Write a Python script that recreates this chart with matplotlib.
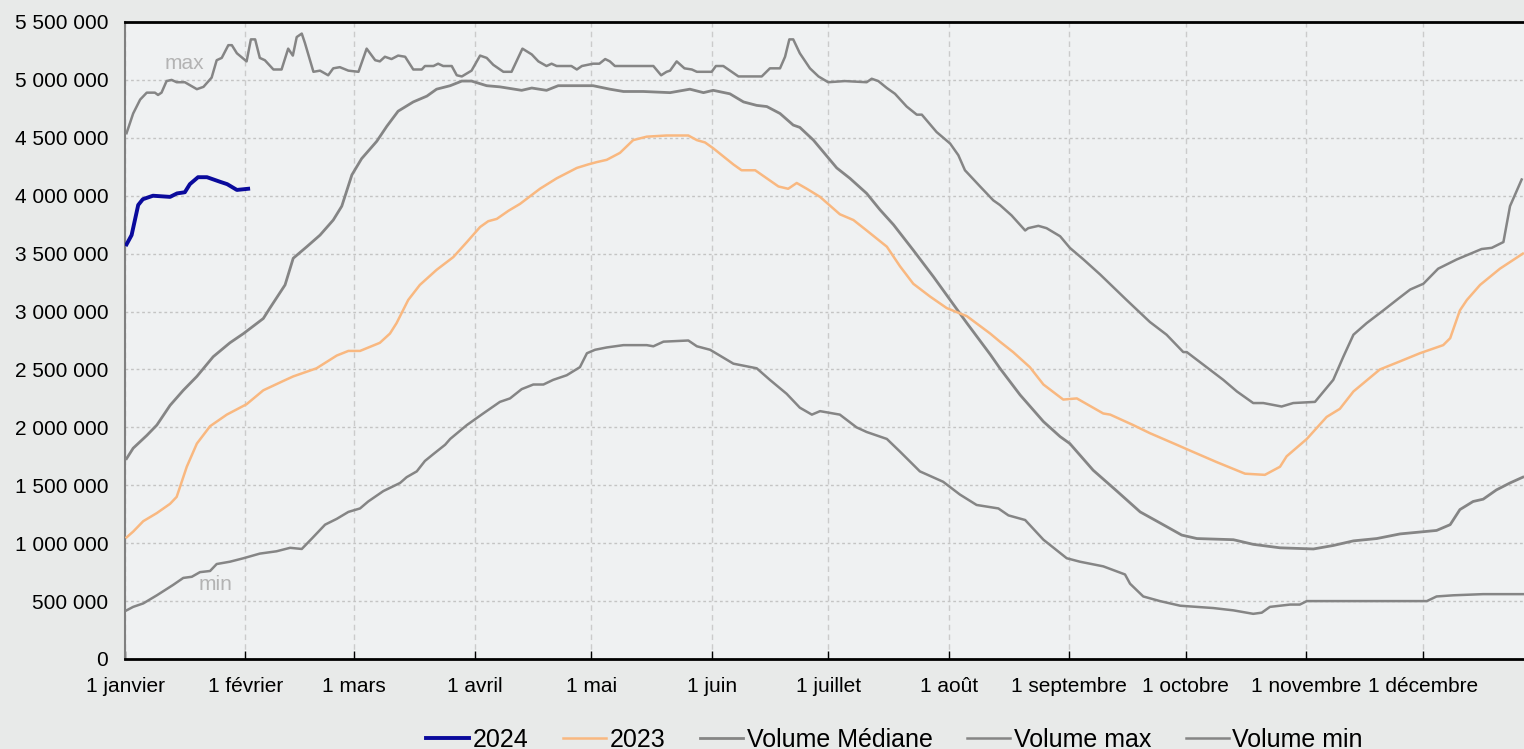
import matplotlib
matplotlib.use("Agg")
import matplotlib.pyplot as plt
from matplotlib.ticker import FuncFormatter

plt.rcParams['font.family'] = ['Liberation Sans', 'DejaVu Sans']

# day of year (0 = 1 janvier) and volume in millions
d2024 = [0.4, 1.7, 3.4, 4.6, 7.2, 11.6, 13.4, 15.4, 16.7, 18.8, 21.1, 24.5, 26.3, 28.8, 31.7]
v2024 = [3.58, 3.66, 3.92, 3.97, 4.00, 3.99, 4.02, 4.03, 4.10, 4.16, 4.16, 4.12, 4.10, 4.05, 4.06]

d2023 = [0.4, 2.1, 4.7, 8.2, 11.6, 13.3, 15.9, 18.5, 21.9, 26.2, 31.3, 35.6, 40.7, 43.3, 49.3,
         54.5, 57.5, 60.5, 65.6, 68.2, 69.9, 72.9, 75.9, 80.2, 84.5, 88.0, 91.4, 93.5, 95.7,
         98.7, 101.7, 106.8, 111.1, 116.3, 119.2, 121.4, 124.0, 127.4, 130.8, 134.3, 139.4,
         145.0, 147.2, 149.3, 151.4, 154.0, 156.6, 158.7, 162.2, 165.2, 168.2, 170.7, 172.9,
         175.5, 178.9, 182.3, 184.0, 187.5, 190.9, 196.1, 199.5, 202.9, 207.2, 211.5, 216.7,
         222.7, 225.2, 228.6, 232.9, 236.4, 241.5, 245.0, 251.8, 253.6, 259.5, 263.8, 270.7,
         274.1, 281.0, 288.3, 293.4, 297.3, 299.0, 304.2, 309.3, 312.7, 316.2, 323.0, 328.2,
         333.3, 339.3, 341.1, 343.6, 345.4, 348.8, 353.9, 359.8]
v2023 = [1.05, 1.10, 1.19, 1.26, 1.34, 1.40, 1.66, 1.86, 2.01, 2.11, 2.20, 2.32, 2.40, 2.44, 2.51,
         2.62, 2.66, 2.66, 2.73, 2.81, 2.90, 3.10, 3.23, 3.36, 3.47, 3.60, 3.73, 3.78, 3.80,
         3.87, 3.93, 4.06, 4.15, 4.24, 4.27, 4.29, 4.31, 4.37, 4.48, 4.51, 4.52,
         4.52, 4.48, 4.46, 4.41, 4.34, 4.27, 4.22, 4.22, 4.15, 4.08, 4.06, 4.11,
         4.06, 3.99, 3.89, 3.84, 3.79, 3.70, 3.56, 3.39, 3.24, 3.13, 3.03, 2.96,
         2.81, 2.74, 2.65, 2.52, 2.37, 2.24, 2.25, 2.12, 2.11, 2.02, 1.95, 1.85,
         1.80, 1.70, 1.60, 1.59, 1.66, 1.75, 1.90, 2.09, 2.16, 2.31, 2.50, 2.57,
         2.64, 2.71, 2.77, 3.01, 3.10, 3.23, 3.37, 3.50]

d_med = [0.4, 2.1, 5.6, 8.2, 11.6, 15.0, 18.5, 22.7, 27.0, 30.5, 35.6, 37.3, 41.2, 43.3, 46.8,
         50.2, 53.6, 55.8, 58.4, 60.9, 64.8, 67.4, 70.3, 74.2, 77.7, 80.2, 83.7, 86.7, 89.2,
         93.1, 96.5, 102.1, 104.7, 108.5, 111.5, 120.5, 124.8, 128.3, 133.4, 140.3, 145.4,
         148.9, 151.4, 155.7, 159.2, 162.6, 165.2, 168.6, 172.0, 173.7, 177.2, 179.7, 183.2,
         186.6, 190.9, 194.3, 197.8, 202.9, 208.1, 212.4, 216.7, 222.7, 225.2, 230.4, 236.4,
         240.7, 243.2, 249.2, 255.3, 261.3, 265.6, 272.0, 275.9, 285.3, 290.4, 297.3, 305.9,
         311.0, 316.2, 322.2, 328.2, 337.6, 341.1, 343.6, 347.0, 349.6, 353.0, 356.5, 359.8]
v_med = [1.73, 1.82, 1.93, 2.02, 2.19, 2.32, 2.44, 2.61, 2.73, 2.81, 2.94, 3.03, 3.23, 3.46, 3.56,
         3.66, 3.79, 3.91, 4.18, 4.32, 4.47, 4.60, 4.73, 4.81, 4.86, 4.92, 4.95, 4.99, 4.99,
         4.95, 4.94, 4.91, 4.93, 4.91, 4.95, 4.95, 4.92, 4.90, 4.90, 4.89, 4.92,
         4.89, 4.91, 4.88, 4.81, 4.78, 4.77, 4.71, 4.61, 4.59, 4.48, 4.38, 4.24,
         4.15, 4.02, 3.88, 3.75, 3.53, 3.30, 3.10, 2.90, 2.63, 2.51, 2.28, 2.05,
         1.92, 1.86, 1.63, 1.45, 1.27, 1.19, 1.07, 1.04, 1.03, 0.99, 0.96, 0.95,
         0.98, 1.02, 1.04, 1.08, 1.11, 1.16, 1.29, 1.36, 1.38, 1.46, 1.52, 1.57]

d_max = [0.4, 2.1, 3.9, 5.6, 7.7, 8.5, 9.4, 10.7, 12.0, 13.3, 15.4, 18.5, 20.2, 22.3, 23.6, 24.9,
         26.6, 27.5, 28.8, 31.3, 32.4, 33.5, 34.7, 36.0, 38.2, 40.3, 42.0, 43.2, 44.2, 45.5,
         46.3, 48.5, 50.2, 52.3, 53.6, 55.3, 57.5, 60.1, 62.2, 64.4, 65.6, 66.9, 68.6, 70.3,
         72.1, 74.2, 76.4, 77.2, 79.4, 80.6, 81.9, 84.1, 85.4, 86.7, 89.2, 91.4, 93.1, 94.8,
         97.4, 99.5, 102.3, 104.7, 106.4, 108.5, 109.8, 111.1, 114.9, 116.3, 117.6, 120.5,
         122.1, 123.6, 124.8, 126.1, 136.0, 138.0, 139.4, 140.3, 142.0, 144.0, 145.9, 147.2,
         151.0, 152.1, 154.0, 157.9, 163.9, 166.0, 168.6, 169.9, 171.0, 172.0, 173.7, 176.3,
         178.5, 181.0, 185.3, 190.9, 192.2, 193.9, 196.1, 198.2, 201.2, 203.8, 205.1, 208.9,
         212.4, 214.5, 216.2, 220.1, 223.5, 225.2, 228.2, 231.7, 232.5, 235.1, 237.2, 240.7,
         243.2, 246.7, 251.0, 257.8, 263.8, 268.1, 272.4, 273.3, 278.4, 282.7, 286.2, 290.4,
         293.0, 297.7, 300.7, 306.3, 311.0, 313.6, 316.2, 319.6, 323.9, 327.7, 330.8, 334.2,
         338.0, 342.8, 349.2, 351.8, 354.8, 356.5, 358.2, 359.5]
v_max = [4.54, 4.71, 4.83, 4.89, 4.89, 4.87, 4.89, 4.99, 5.00, 4.98, 4.98, 4.92, 4.94, 5.02, 5.17, 5.19,
         5.30, 5.30, 5.23, 5.16, 5.35, 5.35, 5.19, 5.17, 5.09, 5.09, 5.27, 5.21, 5.37, 5.40,
         5.32, 5.07, 5.08, 5.04, 5.10, 5.11, 5.08, 5.07, 5.27, 5.17, 5.16, 5.20, 5.18, 5.21,
         5.20, 5.09, 5.09, 5.12, 5.12, 5.14, 5.12, 5.12, 5.04, 5.03, 5.08, 5.21, 5.19, 5.13,
         5.07, 5.07, 5.27, 5.22, 5.16, 5.12, 5.14, 5.12, 5.12, 5.09, 5.12, 5.14,
         5.14, 5.18, 5.16, 5.12, 5.12, 5.04, 5.07, 5.08, 5.16, 5.10, 5.09, 5.07,
         5.07, 5.12, 5.12, 5.03, 5.03, 5.10, 5.10, 5.20, 5.35, 5.35, 5.23, 5.10,
         5.03, 4.98, 4.99, 4.98, 5.01, 4.99, 4.93, 4.88, 4.77, 4.70, 4.70, 4.55,
         4.45, 4.35, 4.22, 4.08, 3.96, 3.92, 3.83, 3.70, 3.72, 3.74, 3.72, 3.65,
         3.55, 3.45, 3.32, 3.10, 2.91, 2.80, 2.65, 2.65, 2.52, 2.41, 2.31, 2.21,
         2.21, 2.18, 2.21, 2.22, 2.41, 2.61, 2.80, 2.90, 3.01, 3.11, 3.19, 3.24,
         3.37, 3.45, 3.54, 3.55, 3.60, 3.91, 4.04, 4.14]

d_min = [0.4, 2.1, 4.7, 8.2, 12.4, 15.0, 17.2, 19.3, 21.9, 23.6, 27.0, 30.5, 34.7, 39.0, 42.5,
         45.5, 48.1, 51.5, 54.5, 57.5, 60.5, 62.6, 66.5, 70.8, 72.5, 75.1, 77.2, 79.4, 82.4,
         83.7, 88.0, 92.2, 96.5, 99.1, 102.1, 105.1, 107.7, 110.2, 113.7, 117.1, 118.9, 121.0,
         124.0, 128.3, 134.3, 136.0, 138.6, 145.0, 147.2, 150.6, 156.6, 162.6, 166.0, 170.3,
         173.7, 176.8, 178.9, 184.0, 188.3, 190.9, 196.1, 199.5, 204.6, 210.6, 214.9, 219.2,
         224.8, 227.4, 231.7, 236.4, 242.4, 245.8, 251.8, 257.4, 258.7, 262.1, 266.4, 271.6,
         280.1, 285.3, 290.4, 292.6, 294.7, 299.9, 302.4, 304.2, 335.1, 337.6, 341.9, 349.6, 359.8]
v_min = [0.42, 0.45, 0.48, 0.55, 0.64, 0.70, 0.71, 0.75, 0.76, 0.82, 0.84, 0.87, 0.91, 0.93, 0.96,
         0.95, 1.04, 1.16, 1.21, 1.27, 1.30, 1.36, 1.45, 1.52, 1.57, 1.62, 1.71, 1.77, 1.85,
         1.90, 2.02, 2.12, 2.22, 2.25, 2.33, 2.37, 2.37, 2.41, 2.45, 2.52, 2.64, 2.67,
         2.69, 2.71, 2.71, 2.70, 2.74, 2.75, 2.70, 2.67, 2.55, 2.51, 2.41, 2.29,
         2.17, 2.11, 2.14, 2.11, 2.00, 1.96, 1.90, 1.79, 1.62, 1.53, 1.42, 1.33,
         1.30, 1.24, 1.20, 1.03, 0.87, 0.84, 0.80, 0.73, 0.65, 0.54, 0.50, 0.46,
         0.44, 0.42, 0.39, 0.40, 0.45, 0.47, 0.47, 0.50, 0.50, 0.54, 0.55, 0.56, 0.56]

month_days = [0, 31, 59, 90, 120, 151, 181, 212, 243, 273, 304, 334]
month_labels = ['1 janvier', '1 février', '1 mars', '1 avril', '1 mai', '1 juin', '1 juillet',
                '1 août', '1 septembre', '1 octobre', '1 novembre', '1 décembre']

M = 1e6
gray = '#858585'

fig = plt.figure(figsize=(15.24, 7.49), dpi=100, facecolor='#e8eae9')
ax = fig.add_axes([125 / 1524, 1 - 659 / 749, 1 - 125 / 1524, (659 - 22) / 749])
ax.set_facecolor('#eff1f2')

ax.plot(d2024, [v * M for v in v2024], color='#0a0a9c', lw=2.8, label='2024', zorder=5)
ax.plot(d2023, [v * M for v in v2023], color='#f9b880', lw=1.8, label='2023', zorder=4)
ax.plot(d_med, [v * M for v in v_med], color=gray, lw=2, label='Volume Médiane', zorder=3)
ax.plot(d_max, [v * M for v in v_max], color=gray, lw=1.8, label='Volume max', zorder=3)
ax.plot(d_min, [v * M for v in v_min], color=gray, lw=1.8, label='Volume min', zorder=3)

ax.text(15.4, 5.14 * M, 'max', color='#b3b3b3', fontsize=15, ha='center', va='center')
ax.text(23.4, 0.645 * M, 'min', color='#b3b3b3', fontsize=15, ha='center', va='center')

ax.set_xlim(0, 360.1)
ax.set_ylim(0, 5.5 * M)
ax.set_yticks([i * 0.5 * M for i in range(12)])
ax.yaxis.set_major_formatter(FuncFormatter(lambda v, p: f"{int(round(v)):,}".replace(',', ' ')))
ax.set_xticks(month_days)
ax.set_xticklabels(month_labels)
ax.tick_params(axis='x', direction='in', length=6, width=1, pad=13, labelsize=15)
ax.tick_params(axis='y', length=0, pad=12, labelsize=15)

ax.grid(axis='y', linestyle=(0, (2, 2)), color='#c4c4c4', lw=1)
ax.grid(axis='x', linestyle=(0, (4, 3)), color='#cbcbcb', lw=1)
ax.set_axisbelow(True)

ax.spines['right'].set_visible(False)
ax.spines['top'].set_color('black')
ax.spines['top'].set_linewidth(2)
ax.spines['bottom'].set_color('black')
ax.spines['bottom'].set_linewidth(2)
ax.spines['left'].set_color('#808080')
ax.spines['left'].set_linewidth(1.5)

fig.legend(loc='center', bbox_to_anchor=(0.587, 1 - 740 / 749), ncol=5, frameon=False,
           fontsize=18, handlelength=1.7, handletextpad=0.15, columnspacing=1.4)

fig.savefig('out.png', dpi=100, facecolor=fig.get_facecolor())
